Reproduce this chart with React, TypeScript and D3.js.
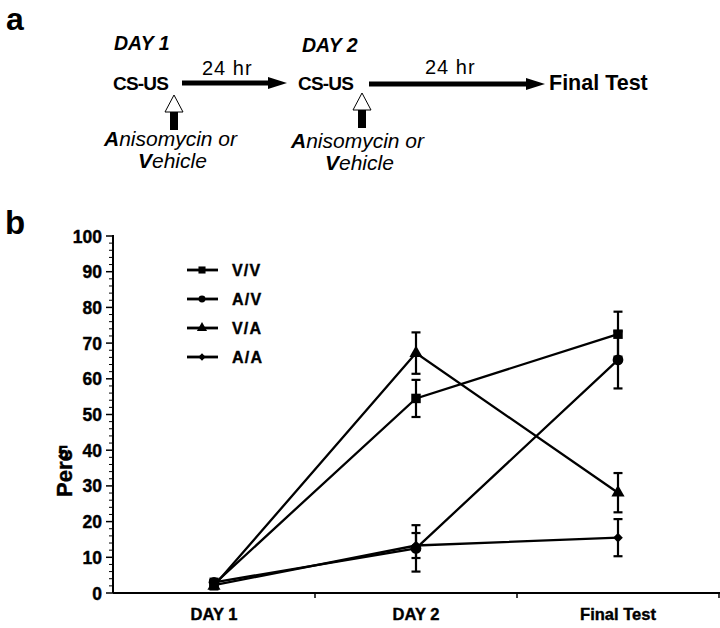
import React from "react";
import * as d3 from "d3";

const categories = ["DAY 1", "DAY 2", "Final Test"];
const seriesNames = ["V/V", "A/V", "V/A", "A/A"];
const vvValues = [2.5, 54.5, 72.5];
const avValues = [3, 12.5, 65.3];
const vaValues = [2, 67.2, 28.1];
const aaValues = [2.2, 13.3, 15.5];
const vvErrors = [1, 5.2, 6.3];
const avErrors = [1, 6.5, 8];
const vaErrors = [1, 5.8, 5.5];
const aaErrors = [1, 3.5, 5.2];
const yTicks = [0, 10, 20, 30, 40, 50, 60, 70, 80, 90, 100];

const series = [
  { name: seriesNames[0], values: vvValues, errors: vvErrors, symbol: d3.symbolSquare, size: 90, lsize: 50 },
  { name: seriesNames[1], values: avValues, errors: avErrors, symbol: d3.symbolCircle, size: 90, lsize: 38 },
  { name: seriesNames[2], values: vaValues, errors: vaErrors, symbol: d3.symbolTriangle, size: 75, lsize: 45 },
  { name: seriesNames[3], values: aaValues, errors: aaErrors, symbol: d3.symbolDiamond2, size: 60, lsize: 34 },
];

const W = 720;
const H = 628;
const left = 113;
const right = 719;
const top = 236;
const bottom = 593;

function UpArrow({ cx, y0 }: { cx: number; y0: number }) {
  return (
    <g>
      <rect x={cx - 4} y={y0 + 17} width={8} height={18} fill="#000" />
      <path d={`M${cx},${y0} L${cx + 9},${y0 + 17} L${cx - 9},${y0 + 17} Z`} fill="#fff" stroke="#000" strokeWidth={1} />
    </g>
  );
}

function HArrow({ x0, x1, y }: { x0: number; x1: number; y: number }) {
  return (
    <g>
      <line x1={x0} y1={y} x2={x1 - 16} y2={y} stroke="#000" strokeWidth={5} />
      <path d={`M${x1},${y} L${x1 - 19},${y - 6} L${x1 - 19},${y + 6} Z`} fill="#000" />
    </g>
  );
}

export default function App() {
  const x = d3.scaleBand<string>().domain(categories).range([left, right]).padding(0);
  const y = d3.scaleLinear().domain([0, 100]).range([bottom, top]);
  const cx = (c: string) => (x(c) as number) + x.bandwidth() / 2;
  const line = d3
    .line<number>()
    .x((_, i) => cx(categories[i]))
    .y((v) => y(v));
  const minorTicks = d3.range(0, 101, 2).filter((v) => v % 10 !== 0);
  const font = "Liberation Sans, Arial, sans-serif";
  const legendY = [270, 299, 328, 357];
  const heavy = { stroke: "#000", strokeWidth: 0.4 };

  return (
    <svg width={W} height={H} style={{ position: "absolute", left: 0, top: 0, background: "#fff" }} fontFamily={font}>
      <rect width={W} height={H} fill="#fff" />
      {/* Panel a */}
      <text x={6} y={30} fontSize={32} fontWeight="bold">a</text>
      <text x={114} y={50} fontSize={19.5} fontWeight="bold" fontStyle="italic">DAY 1</text>
      <text x={302} y={52} fontSize={19.5} fontWeight="bold" fontStyle="italic">DAY 2</text>
      <text x={113} y={90} fontSize={19} fontWeight="bold" letterSpacing={-0.8}>CS-US</text>
      <text x={298} y={90} fontSize={19} fontWeight="bold" letterSpacing={-0.8}>CS-US</text>
      <text x={202} y={75} fontSize={20} letterSpacing={1}>24 hr</text>
      <text x={425} y={74} fontSize={20} letterSpacing={1}>24 hr</text>
      <text x={549} y={90} fontSize={21.5} fontWeight="bold">Final Test</text>
      <HArrow x0={182} x1={287} y={83} />
      <HArrow x0={369} x1={545} y={84} />
      <UpArrow cx={174} y0={95} />
      <UpArrow cx={362} y0={93} />
      <text x={104} y={146} fontSize={21} fontStyle="italic">
        <tspan fontWeight="bold">A</tspan>nisomycin or
      </text>
      <text x={138} y={168} fontSize={21} fontStyle="italic">
        <tspan fontWeight="bold">V</tspan>ehicle
      </text>
      <text x={291} y={148} fontSize={21} fontStyle="italic">
        <tspan fontWeight="bold">A</tspan>nisomycin or
      </text>
      <text x={325} y={170} fontSize={21} fontStyle="italic">
        <tspan fontWeight="bold">V</tspan>ehicle
      </text>

      {/* Panel b */}
      <text x={5} y={234} fontSize={33} fontWeight="bold">b</text>

      {/* y axis */}
      <line x1={left} y1={top - 1} x2={left} y2={bottom} stroke="#000" strokeWidth={2} />
      {yTicks.map((t) => (
        <g key={t}>
          <line x1={left - 7} x2={left} y1={y(t)} y2={y(t)} stroke="#000" strokeWidth={1.5} />
          <text x={102} y={y(t) + 6.5} fontSize={17.5} fontWeight="bold" textAnchor="end" {...heavy}>{t}</text>
        </g>
      ))}
      {minorTicks.map((t) => (
        <line key={t} x1={left - 4} x2={left} y1={y(t)} y2={y(t)} stroke="#000" strokeWidth={1} />
      ))}
      <text transform="translate(72,497) rotate(-90)" fontSize={22} fontWeight="bold" {...heavy}>Perc</text>
      <text x={58} y={459} fontSize={19} fontWeight="bold" {...heavy}>5</text>

      {/* x axis */}
      <line x1={left} y1={bottom} x2={right + 1} y2={bottom} stroke="#000" strokeWidth={2} />
      {categories.map((c) => (
        <line key={c} x1={(x(c) as number) + x.bandwidth()} x2={(x(c) as number) + x.bandwidth()} y1={bottom} y2={bottom + 5} stroke="#000" strokeWidth={1.5} />
      ))}
      {categories.map((c) => (
        <text key={c} x={cx(c)} y={620} fontSize={16.5} fontWeight="bold" textAnchor="middle" {...heavy}>{c}</text>
      ))}

      {/* series lines */}
      {series.map((s) => (
        <path key={s.name} d={line(s.values) as string} fill="none" stroke="#000" strokeWidth={2.3} />
      ))}
      {/* error bars */}
      {series.map((s) =>
        s.values.map((v, i) => {
          const px = cx(categories[i]);
          const e = s.errors[i];
          return (
            <g key={s.name + i} stroke="#000" strokeWidth={2.2}>
              <line x1={px} x2={px} y1={y(v + e)} y2={y(v - e)} />
              <line x1={px - 4.5} x2={px + 4.5} y1={y(v + e)} y2={y(v + e)} />
              <line x1={px - 4.5} x2={px + 4.5} y1={y(v - e)} y2={y(v - e)} />
            </g>
          );
        })
      )}
      {/* markers */}
      {series.map((s) =>
        s.values.map((v, i) => (
          <path
            key={s.name + "m" + i}
            d={d3.symbol().type(s.symbol).size(s.size)() as string}
            transform={`translate(${cx(categories[i])},${y(v)})`}
            fill="#000"
          />
        ))
      )}

      {/* legend */}
      {series.map((s, i) => (
        <g key={s.name} transform={`translate(0,${legendY[i]})`}>
          <line x1={187} x2={218} y1={0} y2={0} stroke="#000" strokeWidth={2.8} />
          <path d={d3.symbol().type(s.symbol).size(s.lsize)() as string} transform="translate(202,0)" fill="#000" />
          <text x={232} y={6} fontSize={16} fontWeight="bold" letterSpacing={1.2} {...heavy}>{s.name}</text>
        </g>
      ))}
    </svg>
  );
}
